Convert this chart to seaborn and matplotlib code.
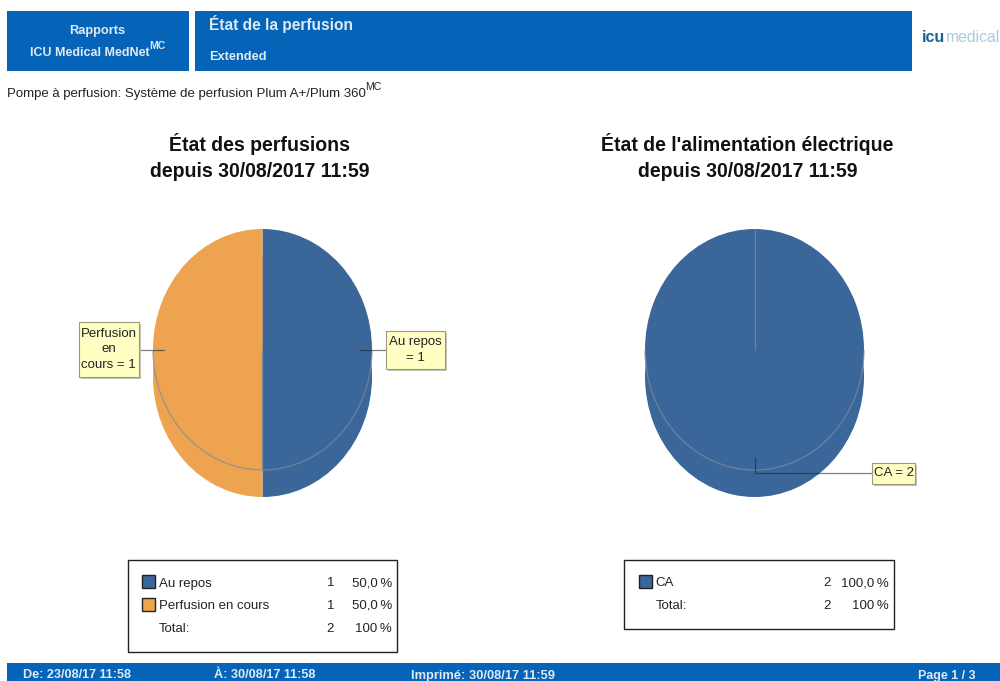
import matplotlib
matplotlib.use("Agg")
import matplotlib.pyplot as plt
from matplotlib.patches import Rectangle
import seaborn as sns

status_labels = ["Au repos", "Perfusion en cours"]
status_values = [1, 1]
power_labels = ["CA"]
power_values = [2]
status_colors = ["#3a6699", "#eea350"]
power_colors = ["#3a6699"]

sns.set_theme(style="white")
plt.rcParams["font.family"] = ["Liberation Sans", "DejaVu Sans"]

W, H = 1000, 681
fig = plt.figure(figsize=(W / 100, H / 100), dpi=100, facecolor="white")


def pie_axes(x0, x1, y0, y1, zorder):
    ax = fig.add_axes([x0 / W, 1 - y1 / H, (x1 - x0) / W, (y1 - y0) / H], zorder=zorder)
    ax.patch.set_alpha(0)
    return ax


def draw_pie(values, colors, x0, x1, y0, y1, depth, z):
    low = pie_axes(x0, x1, y0 + depth, y1 + depth, z)
    top = pie_axes(x0, x1, y0, y1, z + 1)
    low.pie(values, colors=colors, startangle=90, counterclock=False,
            wedgeprops=dict(linewidth=0))
    top.pie(values, colors=colors, startangle=90, counterclock=False,
            wedgeprops=dict(linewidth=0))
    rim, _ = top.pie(values, colors=colors, startangle=90, counterclock=False,
                     wedgeprops=dict(linewidth=0.9, edgecolor="#7f8c99", facecolor="none", alpha=0.75))
    for a in (low, top):
        a.set_aspect("auto")
        a.set_xlim(-1, 1)
        a.set_ylim(-1, 1)
        a.axis("off")
    lower_half = Rectangle((-1.1, -1.1), 2.2, 1.1, transform=top.transData)
    for wedge in rim:
        wedge.set_clip_on(True)
        wedge.set_clip_path(lower_half)
    return top


draw_pie(status_values, status_colors, 153, 372, 229, 470, 27, 1)
right_top = draw_pie(power_values, power_colors, 645, 864, 229, 470, 27, 3)
right_top.plot([0, 0], [0, 1], color="#7f8c99", lw=0.9, alpha=0.75)

ov = fig.add_axes([0, 0, 1, 1], zorder=10)
ov.set_xlim(0, W)
ov.set_ylim(H, 0)
ov.axis("off")
ov.patch.set_alpha(0)

BLUE = "#0563b8"
for x, y, w, h in [(7, 11, 182, 60), (195, 11, 717, 60), (7, 663, 993, 18)]:
    ov.add_patch(Rectangle((x, y), w, h, fc=BLUE, ec="none"))

HW = "#dfeaf5"
ov.text(97.5, 31, "Rapports", color=HW, fontsize=9.2, fontweight="bold", ha="center", va="center")
ov.text(30, 52.5, "ICU Medical MedNet", color=HW, fontsize=9, fontweight="bold", ha="left", va="center")
ov.text(149.5, 46, "MC", color=HW, fontsize=7.5, fontweight="bold", ha="left", va="center")
ov.text(209, 24, "État de la perfusion", color=HW, fontsize=11.2, fontweight="bold", ha="left", va="center")
ov.text(209, 57, "Extended", color=HW, fontsize=9.2, fontweight="bold", ha="left", va="center")
ov.text(7, 94, "Pompe à perfusion: Système de perfusion Plum A+/Plum 360", color="#222222",
        fontsize=9.5, ha="left", va="center")
ov.text(365, 87, "MC", color="#222222", fontsize=7.6, ha="left", va="center")

ov.text(922, 38, "icu", color="#14658f", fontsize=11.5, fontweight="bold", ha="left", va="center")
ov.text(945.5, 38, "medical", color="#a9cbdf", fontsize=11.3, ha="left", va="center")

ov.text(259.5, 157, "État des perfusions\ndepuis 30/08/2017 11:59", color="#111111", fontsize=14.05,
        fontweight="bold", ha="center", va="center", linespacing=1.45)
ov.text(747.5, 157, "État de l'alimentation électrique\ndepuis 30/08/2017 11:59", color="#111111", fontsize=14.05,
        fontweight="bold", ha="center", va="center", linespacing=1.45)


def callout(x0, y0, x1, y1, text):
    ov.add_patch(Rectangle((x0 + 2, y0 + 2), x1 - x0, y1 - y0, fc="#c4c4b8", ec="none", zorder=3))
    ov.add_patch(Rectangle((x0, y0), x1 - x0, y1 - y0, fc="#ffffc4", ec="#9a9a80", lw=0.8, zorder=4))
    ov.text((x0 + x1) / 2, (y0 + y1) / 2, text, color="#222222", fontsize=9.5, ha="center",
            va="center", linespacing=1.42, zorder=5)


DARK, GREY = "#2b3f55", "#808080"
ov.plot([139, 153], [349.5, 349.5], color=GREY, lw=0.9)
ov.plot([153, 164], [349.5, 349.5], color="#6b5a40", lw=0.9)
ov.plot([360, 372], [349.5, 349.5], color=DARK, lw=0.9)
ov.plot([372, 386], [349.5, 349.5], color=GREY, lw=0.9)
ov.plot([755, 755], [458, 473], color=DARK, lw=0.9)
ov.plot([755, 819], [473, 473], color=DARK, lw=0.9)
ov.plot([819, 872], [473, 473], color=GREY, lw=0.9)
callout(78.5, 322, 139, 377, "Perfusion\nen\ncours = %d" % status_values[1])
callout(386, 331, 445, 369, "%s\n= %d" % (status_labels[0], status_values[0]))
callout(872, 463, 915, 484, "%s = %d" % (power_labels[0], power_values[0]))


def legend(x0, y0, x1, y1, labels, values, colors):
    ov.add_patch(Rectangle((x0, y0), x1 - x0, y1 - y0, fc="white", ec="#222222", lw=1))
    total = sum(values)
    ys = [582 + i * 22.5 for i in range(len(labels) + 1)]
    kw = dict(color="#222222", fontsize=9.5, va="baseline")
    for lab, val, col, y in zip(labels, values, colors, ys):
        ov.add_patch(Rectangle((x0 + 14.5, y - 7), 13, 13, fc=col, ec="#222222", lw=1))
        ov.text(x0 + 31.5, y + 4.5, lab, ha="left", **kw)
        ov.text(x1 - 63, y + 4.5, str(val), ha="right", **kw)
        ov.text(x1 - 5, y + 4.5, ("%.1f\u2009%%" % (100 * val / total)).replace(".", ","), ha="right", **kw)
    y = ys[len(labels)]
    ov.text(x0 + 31.5, y + 4.5, "Total:", ha="left", **kw)
    ov.text(x1 - 63, y + 4.5, str(total), ha="right", **kw)
    ov.text(x1 - 5, y + 4.5, "100\u2009%", ha="right", **kw)


legend(127.5, 560, 397, 652, status_labels, status_values, status_colors)
legend(624, 560, 894, 629, power_labels, power_values, power_colors)

for x, s, fs in [(23, "De: 23/08/17 11:58", 9.1), (214, "À: 30/08/17 11:58", 9.2),
                 (411, "Imprimé: 30/08/17 11:59", 9.3), (918, "Page 1 / 3", 8.9)]:
    ov.text(x, 675.5, s, color=HW, fontsize=fs, fontweight="bold", ha="left", va="center")

fig.savefig("out.png", dpi=100, facecolor="white")
